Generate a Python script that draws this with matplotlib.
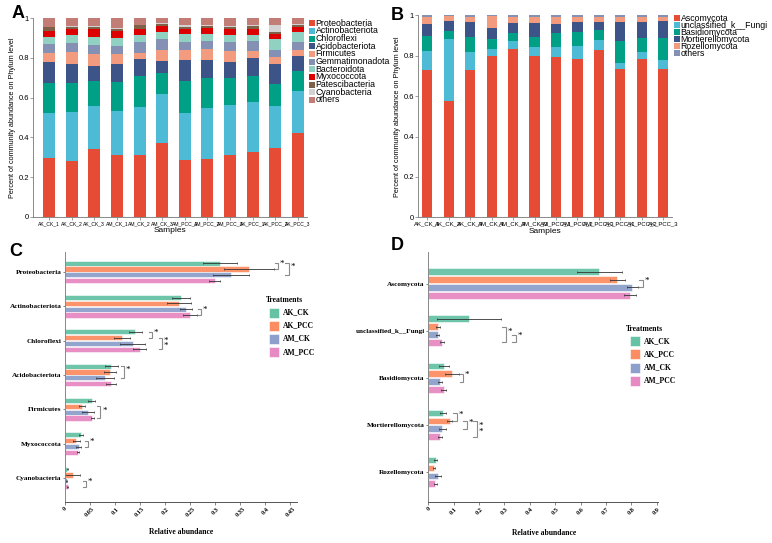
import matplotlib
matplotlib.use("Agg")
import matplotlib.pyplot as plt
import numpy as np
from matplotlib.patches import Rectangle

W, H = 772, 543

# ---------------- DATA ----------------
samples = ["AK_CK_1", "AK_CK_2", "AK_CK_3", "AM_CK_1", "AM_CK_2", "AM_CK_3",
           "AM_PCC_1", "AM_PCC_2", "AM_PCC_3", "AK_PCC_1", "AK_PCC_2", "AK_PCC_3"]

bac_phyla = ["Proteobacteria", "Actinobacteriota", "Chloroflexi", "Acidobacteriota",
             "Firmicutes", "Gemmatimonadota", "Bacteroidota", "Myxococcota",
             "Patescibacteria", "Cyanobacteria", "others"]
bac_colors = ["#E64B35", "#4DBBD5", "#00A087", "#3C5488", "#F39B7F", "#8491B4",
              "#91D1C2", "#DC0000", "#7E6148", "#D3D3D3", "#C27E76"]
Proteobacteria   = [.294, .281, .343, .309, .309, .370, .287, .292, .309, .326, .348, .420]
Actinobacteriota = [.230, .247, .215, .225, .246, .248, .236, .258, .254, .254, .210, .215]
Chloroflexi      = [.152, .146, .126, .145, .153, .106, .163, .149, .136, .129, .111, .101]
Acidobacteriota  = [.102, .097, .077, .091, .085, .061, .102, .089, .083, .091, .099, .076]
Firmicutes       = [.046, .059, .059, .048, .034, .057, .052, .056, .055, .035, .039, .028]
Gemmatimonadota  = [.047, .046, .047, .044, .055, .054, .041, .042, .042, .051, .033, .041]
Bacteroidota     = [.037, .038, .041, .041, .036, .037, .038, .037, .039, .032, .054, .052]
Myxococcota      = [.030, .032, .038, .033, .030, .028, .029, .027, .030, .030, .025, .023]
Patescibacteria  = [.017, .012, .012, .012, .017, .012, .010, .011, .010, .013, .012, .012]
Cyanobacteria    = [.003, .005, .003, .003, .002, .002, .008, .003, .003, .003, .034, .003]
bac_others       = [.042, .037, .039, .049, .033, .025, .034, .036, .039, .036, .035, .029]
bac_values = [Proteobacteria, Actinobacteriota, Chloroflexi, Acidobacteriota, Firmicutes,
              Gemmatimonadota, Bacteroidota, Myxococcota, Patescibacteria, Cyanobacteria,
              bac_others]

fun_phyla = ["Ascomycota", "unclassified_k__Fungi", "Basidiomycota",
             "Mortierellomycota", "Rozellomycota", "others"]
fun_colors = ["#E64B35", "#4DBBD5", "#00A087", "#3C5488", "#F39B7F", "#8491B4"]
Ascomycota        = [.731, .574, .731, .799, .833, .797, .792, .785, .828, .733, .782, .736]
unclassified_Fungi = [.091, .310, .087, .036, .040, .045, .053, .065, .050, .033, .038, .043]
Basidiomycota     = [.076, .040, .076, .049, .041, .052, .069, .067, .049, .109, .066, .107]
Mortierellomycota = [.061, .048, .071, .055, .046, .068, .043, .050, .040, .090, .079, .084]
Rozellomycota     = [.034, .023, .027, .058, .033, .031, .036, .026, .026, .028, .028, .022]
fun_others        = [.007, .005, .008, .003, .007, .007, .007, .007, .007, .007, .007, .008]
fun_values = [Ascomycota, unclassified_Fungi, Basidiomycota, Mortierellomycota,
              Rozellomycota, fun_others]

treatments = ["AK_CK", "AK_PCC", "AM_CK", "AM_PCC"]
treat_colors = ["#66C2A5", "#FC8D62", "#8DA0CB", "#E78AC3"]

c_taxa = ["Proteobacteria", "Actinobacteriota", "Chloroflexi", "Acidobacteriota",
          "Firmicutes", "Myxococcota", "Cyanobacteria"]
c_mean = {
    "AK_CK":  [0.309, 0.231, 0.140, 0.092, 0.053, 0.031, 0.004],
    "AK_PCC": [0.367, 0.227, 0.113, 0.089, 0.033, 0.022, 0.015],
    "AM_CK":  [0.331, 0.241, 0.135, 0.079, 0.046, 0.027, 0.003],
    "AM_PCC": [0.299, 0.249, 0.149, 0.091, 0.054, 0.026, 0.005],
}
c_err = {
    "AK_CK":  [0.034, 0.018, 0.013, 0.013, 0.007, 0.004, 0.001],
    "AK_PCC": [0.050, 0.024, 0.016, 0.012, 0.006, 0.007, 0.015],
    "AM_CK":  [0.036, 0.012, 0.025, 0.018, 0.012, 0.005, 0.001],
    "AM_PCC": [0.011, 0.014, 0.013, 0.010, 0.003, 0.002, 0.001],
}
# (taxon index, bar i, bar j, x position, number of stars)
c_sig = [(0, 0, 1, 0.419, 1), (0, 0, 2, 0.440, 1), (1, 2, 3, 0.265, 1),
         (2, 0, 1, 0.167, 1), (2, 1, 3, 0.187, 2), (3, 0, 2, 0.111, 1),
         (4, 1, 3, 0.064, 1), (5, 1, 2, 0.039, 1), (6, 2, 3, 0.035, 1)]
c_xticks = [0, 0.05, 0.1, 0.15, 0.2, 0.25, 0.3, 0.35, 0.4, 0.45]
c_xticklabels = ["0", "0.05", "0.1", "0.15", "0.2", "0.25", "0.3", "0.35", "0.4", "0.45"]

d_taxa = ["Ascomycota", "unclassified_k__Fungi", "Basidiomycota",
          "Mortierellomycota", "Rozellomycota"]
d_mean = {
    "AK_CK":  [0.674, 0.162, 0.063, 0.058, 0.029],
    "AK_PCC": [0.745, 0.037, 0.093, 0.084, 0.024],
    "AM_CK":  [0.804, 0.037, 0.047, 0.055, 0.039],
    "AM_PCC": [0.796, 0.053, 0.060, 0.045, 0.028],
}
d_err = {
    "AK_CK":  [0.089, 0.126, 0.020, 0.013, 0.006],
    "AK_PCC": [0.029, 0.008, 0.026, 0.010, 0.004],
    "AM_CK":  [0.021, 0.006, 0.008, 0.013, 0.013],
    "AM_PCC": [0.024, 0.008, 0.010, 0.008, 0.006],
}
d_sig = [(0, 1, 2, 0.832, 1), (1, 1, 3, 0.292, 1), (1, 2, 3, 0.331, 1),
         (2, 1, 2, 0.125, 1), (3, 0, 1, 0.099, 1), (3, 1, 2, 0.138, 1),
         (3, 1, 3, 0.177, 2)]
d_xticks = [0, 0.1, 0.2, 0.3, 0.4, 0.5, 0.6, 0.7, 0.8, 0.9]
d_xticklabels = ["0", "0.1", "0.2", "0.3", "0.4", "0.5", "0.6", "0.7", "0.8", "0.9"]

# ---------------- HELPERS ----------------
SANS = "Liberation Sans"
SERIF = "Liberation Serif"

def rect(l, t, r, b):
    return [l / W, 1 - b / H, (r - l) / W, (b - t) / H]

def fxy(x, y):
    return x / W, 1 - y / H

fig = plt.figure(figsize=(W / 100, H / 100), dpi=100)
fig.patch.set_facecolor("white")

def stacked(ax, values, colors, width, ylabel, xfs):
    x = np.arange(len(samples))
    bottom = np.zeros(len(samples))
    for vals, col in zip(values, colors):
        ax.bar(x, vals, width=width, bottom=bottom, color=col, linewidth=0)
        bottom += np.array(vals)
    ax.set_ylim(0, 1)
    ax.set_yticks([0, 0.2, 0.4, 0.6, 0.8, 1])
    ax.set_yticklabels(["0", "0.2", "0.4", "0.6", "0.8", "1"], fontsize=5.5, family=SANS)
    ax.set_xticks(x)
    ax.set_xticklabels(samples, fontsize=xfs, family=SANS)
    for s in ["top", "right"]:
        ax.spines[s].set_visible(False)
    for s in ["left", "bottom"]:
        ax.spines[s].set_color("#777777")
        ax.spines[s].set_linewidth(0.6)
    ax.tick_params(axis="both", length=2, width=0.5, color="#777777", pad=1)
    ax.set_ylabel(ylabel, fontsize=5.2, family=SANS, labelpad=2)
    ax.set_xlabel("Samples", fontsize=6, family=SANS, labelpad=1)

def side_legend(labels, colors, x, y0, dy, size, fs):
    for k, (lab, col) in enumerate(zip(labels, colors)):
        cy = y0 + k * dy
        fx0, fy0 = fxy(x, cy + size / 2)
        fig.patches.append(Rectangle((fx0, fy0), size / W, size / H, transform=fig.transFigure,
                                     facecolor=col, edgecolor="none"))
        tx, ty = fxy(x + size + 0.5, cy)
        fig.text(tx, ty, lab, fontsize=fs, family=SANS, va="center", ha="left")

# ---------------- PANEL A ----------------
axA = fig.add_axes(rect(33, 18.3, 307, 216.7))
stacked(axA, bac_values, bac_colors, 0.53,
        "Percent of community abundance on Phylum level", 3.6)
axA.set_xlim(-0.71, 11.4)
side_legend(bac_phyla, bac_colors, 309, 23.3, 7.67, 6, 6.3)

# ---------------- PANEL B ----------------
axB = fig.add_axes(rect(418.3, 15.3, 672, 217.3))
stacked(axB, fun_values, fun_colors, 0.47,
        "Percent of community abundance on Phylum level", 4.3)
axB.set_xlim(-0.41, 11.4)
side_legend(fun_phyla, fun_colors, 674, 18.3, 7.0, 6, 6.3)

# ---------------- PANELS C / D ----------------
def hbar_panel(ax, taxa, mean, err, sig, xlim, xticks, xticklabels, ylim, step, h, ddx, bracket_px):
    n = len(taxa)
    y = np.arange(n)
    offs = np.array([-1.5, -0.5, 0.5, 1.5]) * step
    for k, t in enumerate(treatments):
        ax.barh(y + offs[k], mean[t], height=h, color=treat_colors[k],
                edgecolor="white", linewidth=0.4, alpha=0.95)
        ax.errorbar(mean[t], y + offs[k], xerr=err[t], fmt="none", ecolor="#333333",
                    elinewidth=0.6, capsize=1.0, capthick=0.5)
    for (ti, i, j, xb, ns) in sig:
        y1, y2 = ti + offs[i], ti + offs[j]
        ax.plot([xb, xb + ddx, xb + ddx, xb], [y1, y1, y2, y2], color="#8a8a8a", lw=0.8,
                solid_joinstyle="miter")
        ym = (y1 + y2) / 2
        star = "*" if ns == 1 else "*\n*"
        ax.text(xb + ddx * 1.5, ym - (0.05 if ns == 1 else 0), star, fontsize=6.5, family=SERIF,
                ha="left", va="center", linespacing=0.6)
    ax.set_xlim(*xlim)
    ax.set_ylim(*ylim)
    ax.set_yticks(y)
    ax.set_yticklabels(taxa, fontsize=5.2, family=SERIF, fontweight="bold")
    ax.set_xticks(xticks)
    ax.set_xticklabels(xticklabels, fontsize=4.6, family=SERIF, fontweight="bold",
                       rotation=45, ha="center", va="top")
    for s in ["top", "right"]:
        ax.spines[s].set_visible(False)
    ax.spines["left"].set_color("#888888")
    ax.spines["bottom"].set_color("#555555")
    ax.spines["left"].set_linewidth(0.7)
    ax.spines["bottom"].set_linewidth(0.7)
    ax.tick_params(axis="y", length=1.5, width=0.5, color="#555555", pad=1)
    ax.tick_params(axis="x", length=2, width=0.5, color="#555555", pad=1)

axC = fig.add_axes(rect(65, 252, 297, 502))
hbar_panel(axC, c_taxa, c_mean, c_err, c_sig, (0, 0.463), c_xticks, c_xticklabels,
           (6.70, -0.58), 0.17, 0.15, 0.0067, 10)

axD = fig.add_axes(rect(428.3, 252, 658, 502))
hbar_panel(axD, d_taxa, d_mean, d_err, d_sig, (0, 0.905), d_xticks, d_xticklabels,
           (4.64, -0.67), 0.168, 0.14, 0.013, 10)

def treat_legend(title_xy, px, ys):
    tx, ty = fxy(*title_xy)
    fig.text(tx, ty, "Treatments", fontsize=5.5, family=SERIF, fontweight="bold",
             ha="center", va="center")
    for k, (t, c) in enumerate(zip(treatments, treat_colors)):
        fx0, fy0 = fxy(px, ys[k] + 5)
        fig.patches.append(Rectangle((fx0, fy0), 10 / W, 10 / H, transform=fig.transFigure,
                                     facecolor=c, edgecolor="white", linewidth=0.4))
        lx, ly = fxy(px + 14, ys[k])
        fig.text(lx, ly, t, fontsize=5.5, family=SERIF, fontweight="bold",
                 ha="left", va="center")

treat_legend((285, 299.7), 269.3, [312.7, 325.7, 338.7, 352.3])
treat_legend((645, 328.7), 630, [341, 354, 367.7, 380.7])

for lab, xy in [("Relative abundance", (181, 532)), ("Relative abundance", (544, 533))]:
    tx, ty = fxy(*xy)
    fig.text(tx, ty, lab, fontsize=5.5, family=SERIF, fontweight="bold", ha="center", va="center")

# panel letters
for letter, xy in [("A", (18, 14)), ("B", (397, 15)), ("C", (16, 252)), ("D", (397, 246))]:
    tx, ty = fxy(*xy)
    fig.text(tx, ty, letter, fontsize=13, family=SANS, fontweight="bold", ha="center", va="center")

fig.savefig("out.png", dpi=100, facecolor="white")
